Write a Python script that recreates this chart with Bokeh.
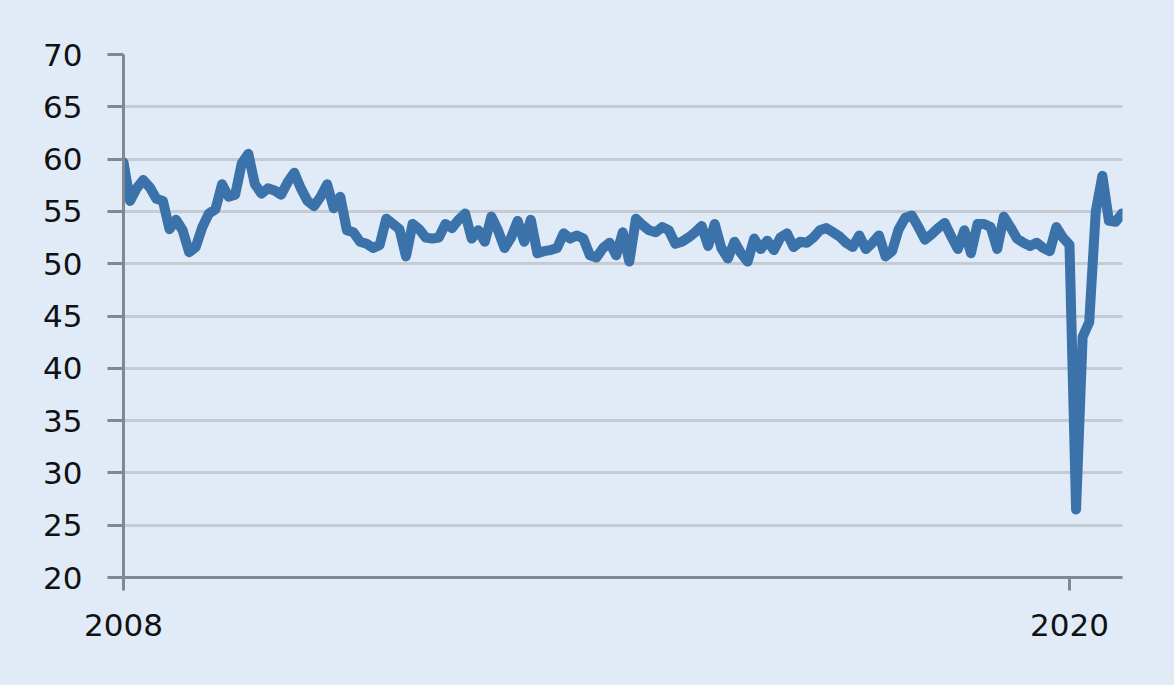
from bokeh.plotting import figure
from bokeh.models import Range1d, FixedTicker
from bokeh.embed import file_html
from bokeh.resources import INLINE

# Monthly index values, Jan 2008 .. Sep 2020
start_year = 2008
values = [
    59.7, 56.0, 57.2, 58.0, 57.3, 56.2, 56.0, 53.3, 54.2, 53.2, 51.1, 51.6,   # 2008
    53.5, 54.8, 55.2, 57.6, 56.4, 56.6, 59.6, 60.5, 57.6, 56.7, 57.2, 57.0,   # 2009
    56.6, 57.8, 58.7, 57.2, 56.0, 55.5, 56.4, 57.6, 55.3, 56.4, 53.2, 53.0,   # 2010
    52.1, 51.9, 51.5, 51.8, 54.3, 53.8, 53.3, 50.7, 53.8, 53.3, 52.5, 52.4,   # 2011
    52.5, 53.8, 53.4, 54.2, 54.8, 52.4, 53.2, 52.1, 54.5, 53.2, 51.5, 52.5,   # 2012
    54.1, 52.1, 54.2, 51.0, 51.2, 51.3, 51.5, 52.9, 52.4, 52.7, 52.4, 50.8,   # 2013
    50.6, 51.5, 52.0, 50.8, 53.0, 50.2, 54.3, 53.7, 53.2, 53.0, 53.5, 53.2,   # 2014
    51.9, 52.1, 52.5, 53.0, 53.6, 51.7, 53.8, 51.5, 50.5, 52.1, 51.0, 50.2,   # 2015
    52.4, 51.4, 52.2, 51.3, 52.5, 52.9, 51.6, 52.1, 52.0, 52.5, 53.2, 53.4,   # 2016
    53.0, 52.6, 52.0, 51.6, 52.7, 51.4, 52.0, 52.7, 50.7, 51.2, 53.3, 54.4,   # 2017
    54.6, 53.5, 52.3, 52.8, 53.4, 53.9, 52.6, 51.4, 53.2, 51.0, 53.8, 53.8,   # 2018
    53.5, 51.4, 54.5, 53.5, 52.4, 52.0, 51.7, 52.0, 51.5, 51.2, 53.5, 52.5,   # 2019
    51.8, 26.5, 43.0, 44.4, 55.0, 58.4, 54.1, 54.0, 54.8,                     # 2020
]
x_vals = [start_year + i / 12 for i in range(len(values))]

y_ticks = [20, 25, 30, 35, 40, 45, 50, 55, 60, 65, 70]
x_ticks = [2008, 2020]
x_tick_labels = {2008: "2008", 2020: "2020"}

BG = "#e0ebf7"
LINE = "#3b72aa"
GRID = "#c4cbd3"
AXIS = "#808890"
TEXT = "#111111"

p = figure(width=1174, height=685, output_backend="svg", toolbar_location=None,
           x_range=Range1d(2008, 2008 + 999 / (946 / 12)),
           y_range=Range1d(20, 70),
           min_border_left=123, min_border_right=52,
           min_border_top=54, min_border_bottom=108)

p.background_fill_color = BG
p.border_fill_color = BG
p.outline_line_color = None

p.xgrid.grid_line_color = None
p.ygrid.ticker = FixedTicker(ticks=y_ticks)
p.ygrid.grid_line_color = GRID
p.ygrid.grid_line_width = 3

p.yaxis.ticker = FixedTicker(ticks=y_ticks)
p.xaxis.ticker = FixedTicker(ticks=x_ticks)
p.xaxis.major_label_overrides = x_tick_labels

for ax in (p.xaxis[0], p.yaxis[0]):
    ax.axis_line_color = AXIS
    ax.axis_line_width = 3
    ax.major_tick_line_color = AXIS
    ax.major_tick_line_width = 3
    ax.major_tick_in = 0
    ax.minor_tick_line_color = None
    ax.major_label_text_font = "DejaVu Sans"
    ax.major_label_text_font_size = "31px"
    ax.major_label_text_color = TEXT

p.yaxis.major_tick_out = 16
p.yaxis.major_label_standoff = 25
p.xaxis.major_tick_out = 13
p.xaxis.major_label_standoff = 23

p.line(x_vals, values, line_color=LINE, line_width=10,
       line_join="round", line_cap="round")

html = file_html(p, INLINE)
html = html.replace("</head>", "<style>body{background:%s;}</style></head>" % BG, 1)
open("out.html", "w").write(html)
